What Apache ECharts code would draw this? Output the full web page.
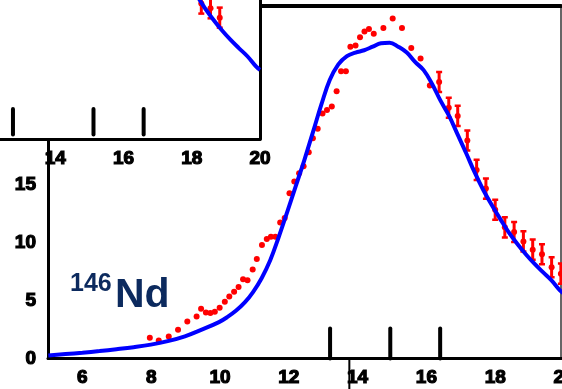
<!DOCTYPE html>
<html><head><meta charset="utf-8">
<script src="https://cdn.jsdelivr.net/npm/echarts@6/dist/echarts.min.js"></script>
<style>html,body{margin:0;padding:0;background:#fff}#c{width:562px;height:389px}</style>
</head><body><div id="c"></div>
<script>
// Model curve (blue)
const curveX = [5.01,5.51,6.00,6.50,6.99,7.49,7.99,8.48,8.98,9.47,9.97,10.22,10.47,10.72,10.96,11.21,11.46,11.70,11.95,12.20,12.45,12.70,12.95,13.19,13.44,13.69,13.94,14.19,14.44,14.68,14.93,15.18,15.43,15.67,15.92,16.17,16.41,16.66,16.91,17.16,17.40,17.65,17.90,18.15,18.39,18.64,18.89,19.14,19.38,19.63,19.89,20.00];
const curveY = [0.26,0.38,0.50,0.64,0.80,0.98,1.20,1.50,1.92,2.50,3.15,3.60,4.15,4.85,5.75,6.95,8.50,10.45,12.65,14.90,17.15,19.57,22.00,24.10,25.45,26.17,26.47,26.67,26.98,27.28,27.33,26.98,26.47,25.66,24.95,23.73,22.31,20.99,19.37,17.74,16.12,14.60,13.28,12.06,10.94,9.93,9.02,8.20,7.49,6.78,5.87,5.60];
// Data points without error bars (red)
const dotX = [7.96,8.22,8.51,8.78,9.05,9.32,9.45,9.59,9.72,9.85,9.99,10.14,10.27,10.41,10.54,10.67,10.80,10.95,11.07,11.22,11.36,11.48,11.61,11.75,11.88,12.02,12.16,12.30,12.43,12.58,12.70,12.84,12.98,13.11,13.25,13.39,13.52,13.66,13.79,13.94,14.07,14.20,14.33,14.47,14.75,15.02,15.29,15.56,15.83,16.10];
const dotY = [1.79,1.56,1.90,2.49,3.21,3.64,4.31,3.99,3.93,4.04,4.40,4.92,5.36,5.77,6.18,6.86,6.76,7.70,8.61,9.83,10.34,10.54,10.54,11.76,12.16,14.29,15.31,16.02,16.63,17.84,19.06,19.87,21.19,21.50,21.80,23.12,24.85,24.85,26.98,27.08,27.79,28.30,28.50,28.09,28.60,29.41,28.60,26.87,25.96,23.63];
// Data points with error bars
const errX = [16.37,16.65,16.91,17.19,17.46,17.73,18.00,18.28,18.55,18.82,19.09,19.36,19.64,19.91];
const errY = [23.93,21.70,20.99,18.86,16.32,14.70,12.87,11.35,10.94,10.13,9.42,9.02,7.90,7.34];
const errHalf = [0.87,0.87,0.87,0.87,0.87,0.87,0.87,0.87,0.87,0.87,0.87,0.87,0.87,0.87];
// Axis labels
const mainXLabels = [6,8,10,12,14,16,18,20];
const mainYLabels = [0,5,10,15];
const insetXLabels = [14,16,18,20];
// Tall marker ticks on the axes
const mainMarkTicks = [13.20,14.95,16.40];
const insetMarkTicks = [12.76,15.12,16.59];
const markTickHeight = [2.6];
// The inset copy shows data points only up to this x
const insetPointMaxX = [18.85];

const chart = echarts.init(document.getElementById('c'), null, {renderer:'canvas'});
const lblFont = {fontFamily:'Liberation Sans', fontWeight:'bold', fontSize:19, color:'#000', textBorderColor:'#000', textBorderWidth:1.2};
const curveData = curveX.map((x,i)=>[x,curveY[i]]);
const dotData = dotX.map((x,i)=>[x,dotY[i]]).concat(errX.map((x,i)=>[x,errY[i]]));
const errData = errX.map((x,i)=>[x,errY[i],errHalf[i]]);

function errRender(params, api){
  const x=api.value(0), y=api.value(1), h=api.value(2);
  const t=api.coord([x,y+h]), b=api.coord([x,y-h]); const cw=3;
  return {type:'group', children:[
    {type:'line', shape:{x1:t[0],y1:t[1],x2:b[0],y2:b[1]}, style:{stroke:'#ff0000',lineWidth:3}},
    {type:'line', shape:{x1:t[0]-cw,y1:t[1],x2:t[0]+cw,y2:t[1]}, style:{stroke:'#ff0000',lineWidth:2.5}},
    {type:'line', shape:{x1:b[0]-cw,y1:b[1],x2:b[0]+cw,y2:b[1]}, style:{stroke:'#ff0000',lineWidth:2.5}}
  ]};
}
function tickRender(params, api){
  const x=api.value(0), h=api.value(1);
  const a=api.coord([x,0]), b=api.coord([x,h]);
  return {type:'line', shape:{x1:a[0],y1:a[1],x2:b[0],y2:b[1]}, style:{stroke:'#000',lineWidth:4,lineCap:'round'}};
}
function seriesFor(xi, zb){
  const lim = xi===0 ? Infinity : insetPointMaxX[0];
  return [
    {type:'custom', xAxisIndex:xi, yAxisIndex:xi, renderItem:errRender, data:errData.filter(d=>d[0]<=lim), clip:true, z:zb, silent:true},
    {type:'scatter', xAxisIndex:xi, yAxisIndex:xi, data:dotData.filter(d=>d[0]<=lim), symbolSize:6, itemStyle:{color:'#ff0000', opacity:1}, clip:true, z:zb+1, silent:true},
    {type:'line', xAxisIndex:xi, yAxisIndex:xi, data:curveData, smooth:0.4, showSymbol:false, lineStyle:{color:'#0000ff',width:4}, clip:true, z:zb+2, silent:true},
    {type:'custom', xAxisIndex:xi, yAxisIndex:xi, renderItem:tickRender,
      data:(xi===0?mainMarkTicks:insetMarkTicks).map(x=>[x,(xi===0?0:-0.4)+markTickHeight[0]]), clip:false, z:zb+3, silent:true}
  ];
}

chart.setOption({
  animation:false,
  backgroundColor:'#fff',
  grid:[
    {left:48, top:6, width:516, height:352.5, outerBoundsMode:'none', containLabel:false},
    {left:0, top:0, width:260, height:139, show:true, backgroundColor:'#fff', borderWidth:0, z:10, outerBoundsMode:'none', containLabel:false},
    {left:48, top:6, width:513, height:352.5, outerBoundsMode:'none', containLabel:false}
  ],
  xAxis:[
    {type:'value', gridIndex:0, min:5, max:20, axisLine:{onZero:false, lineStyle:{color:'#000',width:3}}, axisTick:{show:false}, splitLine:{show:false},
      axisLabel:Object.assign({customValues:mainXLabels, margin:10}, lblFont)},
    {type:'value', gridIndex:1, min:12.38, max:20, z:11, axisLine:{onZero:false, lineStyle:{color:'#000',width:3}}, axisTick:{show:false}, splitLine:{show:false},
      axisLabel:Object.assign({customValues:insetXLabels, margin:10}, lblFont)},
    {type:'value', gridIndex:2, min:0, max:1, position:'top', axisLine:{onZero:false, lineStyle:{color:'#000',width:4}}, axisTick:{show:false}, axisLabel:{show:false}, splitLine:{show:false}}
  ],
  yAxis:[
    {type:'value', gridIndex:0, min:0, max:30.5, axisLine:{onZero:false, lineStyle:{color:'#000',width:3}}, axisTick:{show:false}, splitLine:{show:false},
      axisLabel:Object.assign({customValues:mainYLabels, margin:12}, lblFont)},
    {type:'value', gridIndex:1, min:-0.4, max:11.66, axisLine:{show:false}, axisTick:{show:false}, axisLabel:{show:false}, splitLine:{show:false}},
    {type:'value', gridIndex:2, min:0, max:1, position:'right', axisLine:{onZero:false, lineStyle:{color:'#333',width:1.5}}, axisTick:{show:false}, axisLabel:{show:false}, splitLine:{show:false}},
    {type:'value', gridIndex:1, min:0, max:1, position:'right', z:11, axisLine:{onZero:false, lineStyle:{color:'#000',width:3}}, axisTick:{show:false}, axisLabel:{show:false}, splitLine:{show:false}}
  ],
  series: seriesFor(0, 2).concat(seriesFor(1, 12))
});

const vx = chart.convertToPixel({xAxisIndex:0}, 13.76);
chart.setOption({
  graphic:[
    {type:'text', left:70, top:272, z:20, style:{text:'146', font:'bold 25px "Liberation Sans"', fill:'#0c2a5e'}},
    {type:'text', left:115, top:275, z:20, style:{text:'Nd', font:'bold 41px "Liberation Sans"', fill:'#0c2a5e'}},
    {type:'line', z:20, shape:{x1:vx, y1:360, x2:vx, y2:389}, style:{stroke:'#000', lineWidth:2}}
  ]
});
</script></body></html>
